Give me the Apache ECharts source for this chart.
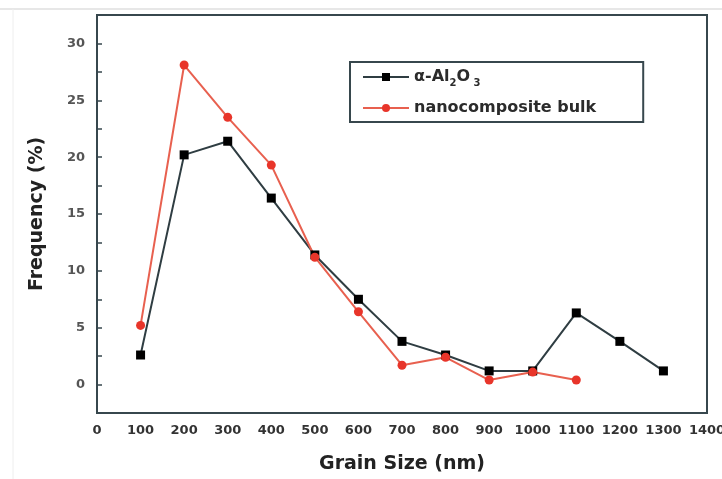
<!DOCTYPE html>
<html>
<head>
<meta charset="utf-8">
<script src="https://cdn.jsdelivr.net/npm/echarts@6/dist/echarts.min.js"></script>
<style>html,body{margin:0;padding:0;background:#fff;}#c{width:722px;height:479px;}</style>
</head>
<body>
<div id="c"></div>
<script>
const grainSizes = [100, 200, 300, 400, 500, 600, 700, 800, 900, 1000, 1100, 1200, 1300];
const alumina = [2.6, 20.2, 21.4, 16.4, 11.4, 7.5, 3.8, 2.6, 1.2, 1.2, 6.3, 3.8, 1.2];
const nanocomposite = [5.2, 28.1, 23.5, 19.3, 11.2, 6.4, 1.7, 2.4, 0.4, 1.1, 0.4];
const yLabels = [0, 5, 10, 15, 20, 25, 30];
const seriesNames = ['α-Al2O3', 'nanocomposite bulk'];

const pairs = (xs, ys) => ys.map((v, i) => [xs[i], v]);
const font = '"DejaVu Sans", "Liberation Sans", Arial, sans-serif';
const frame = '#37474d';

const chart = echarts.init(document.getElementById('c'));
chart.setOption({
  backgroundColor: '#ffffff',
  animation: false,
  textStyle: { fontFamily: font },
  grid: { left: 97, right: 15, top: 15, bottom: 66, containLabel: false, outerBoundsMode: 'none',
    show: true, borderColor: frame, borderWidth: 2 },
  xAxis: {
    type: 'value', min: 0, max: 1400, interval: 100,
    name: 'Grain Size (nm)', nameLocation: 'middle', nameGap: 42,
    nameTextStyle: { fontSize: 19, fontWeight: 'bold', color: '#222', fontFamily: font },
    axisLine: { show: true, onZero: false, lineStyle: { color: frame, width: 2 } },
    axisTick: { show: false },
    splitLine: { show: false },
    axisLabel: { margin: 11, fontSize: 13, fontWeight: 'bold', color: '#333', fontFamily: font,
      formatter: v => String(v) }
  },
  yAxis: {
    type: 'value', min: -2.5, max: 32.5, interval: 2.5,
    name: 'Frequency (%)', nameLocation: 'middle', nameGap: 50,
    nameTextStyle: { fontSize: 19, fontWeight: 'bold', color: '#222', fontFamily: font },
    axisLine: { show: true, onZero: false, lineStyle: { color: frame, width: 2 } },
    axisTick: { show: true, inside: true, length: 5, lineStyle: { color: frame, width: 1.5 } },
    splitLine: { show: false },
    axisLabel: {
      margin: 12, fontSize: 13, fontWeight: 'bold', color: '#555', fontFamily: font,
      formatter: v => (yLabels.indexOf(v) >= 0 ? String(v) : '')
    }
  },
  legend: {
    orient: 'vertical', left: 350, top: 62,
    padding: [7, 47, 6, 12],
    itemGap: 12, itemWidth: 46, itemHeight: 10,
    borderColor: frame, borderWidth: 2, backgroundColor: '#fff',
    textStyle: {
      fontSize: 16, fontWeight: 'bold', color: '#2b2b2b', fontFamily: font,
      rich: {
        a: { fontSize: 16, fontWeight: 'bold', color: '#2b2b2b', fontFamily: font },
        s: { fontSize: 10, fontWeight: 'bold', color: '#2b2b2b', fontFamily: font, padding: [12, 0, 0, 0] }
      }
    },
    formatter: n => n === seriesNames[0] ? '{a|α-Al}{s|2}{a|O}{s| 3}' : '{a|nanocomposite bulk}',
    data: seriesNames
  },
  series: [
    {
      name: seriesNames[0], type: 'line', data: pairs(grainSizes, alumina),
      symbol: 'rect', symbolSize: 9,
      lineStyle: { color: '#2f3d42', width: 2 },
      itemStyle: { color: '#000000' }
    },
    {
      name: seriesNames[1], type: 'line', data: pairs(grainSizes, nanocomposite),
      symbol: 'circle', symbolSize: 9,
      lineStyle: { color: '#e8604f', width: 2 },
      itemStyle: { color: '#e8352a' }
    }
  ],
  graphic: [
    { type: 'line', shape: { x1: 0, y1: 9, x2: 722, y2: 9 }, style: { stroke: '#cfcfcf', lineWidth: 1 }, z: -1 },
    { type: 'line', shape: { x1: 13, y1: 9, x2: 13, y2: 479 }, style: { stroke: '#eeeeee', lineWidth: 1 }, z: -1 }
  ]
});
</script>
</body>
</html>
